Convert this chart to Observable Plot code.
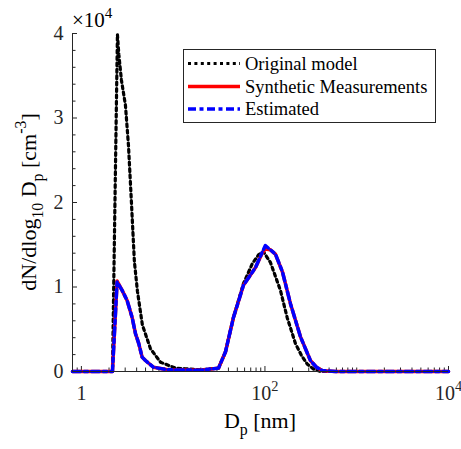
<!DOCTYPE html>
<html><head><meta charset="utf-8">
<script src="https://cdn.jsdelivr.net/npm/d3@7"></script>
<script src="https://cdn.jsdelivr.net/npm/@observablehq/plot@0.6"></script>
<style>html,body{margin:0;padding:0;background:#fff}</style>
</head><body><div id="chart"></div>
<script>
// ---- data (y in units of 10^4 cm^-3) ----
const seriesNames = ["Original model", "Synthetic Measurements", "Estimated"];

const dOrig = [0.8, 2.18, 2.47, 2.56, 2.73, 3.02, 3.26, 3.51, 3.78, 4.08, 4.62, 5.66, 7.27, 10.6, 19.8, 31.2, 37.1, 45.4, 58.3, 73.1, 85.0, 96.0, 114.8, 147.5, 174.5, 215, 250, 288, 337, 403, 10000];
const nOrig = [0, 0, 3.99, 3.75, 3.45, 3.15, 2.67, 2.0, 1.3, 0.95, 0.55, 0.27, 0.11, 0.04, 0.02, 0.04, 0.23, 0.64, 1.04, 1.28, 1.38, 1.42, 1.29, 0.96, 0.64, 0.33, 0.19, 0.09, 0.03, 0, 0];

const dMeas = [0.8, 2.18, 2.45, 2.78, 3.15, 3.57, 3.88, 4.22, 4.59, 4.99, 6.1, 8.67, 19.8, 31.2, 37.1, 45.4, 58.3, 78.9, 93.2, 101, 114.8, 130, 155, 190, 244, 313, 364, 424, 589, 10000];
const nMeas = [0, 0, 1.07, 0.96, 0.84, 0.64, 0.45, 0.33, 0.17, 0.13, 0.05, 0.02, 0.015, 0.04, 0.23, 0.64, 1.02, 1.23, 1.40, 1.45, 1.44, 1.39, 1.18, 0.80, 0.41, 0.13, 0.05, 0.01, 0, 0];

const dEst = [0.8, 2.18, 2.45, 2.78, 3.15, 3.57, 3.88, 4.22, 4.59, 4.99, 6.1, 8.67, 19.8, 31.2, 37.1, 45.4, 58.3, 78.9, 93.2, 101, 114.8, 130, 155, 190, 244, 313, 364, 424, 589, 10000];
const nEst = [0, 0, 1.06, 0.96, 0.84, 0.64, 0.45, 0.33, 0.17, 0.13, 0.05, 0.02, 0.015, 0.04, 0.23, 0.64, 1.02, 1.23, 1.41, 1.49, 1.44, 1.39, 1.18, 0.80, 0.41, 0.13, 0.05, 0.01, 0, 0];

const xTickValues = [1, 100, 10000];
const xTickLabels = ["1", "10^2", "10^4"];
const yTickValues = [0, 1, 2, 3, 4];
const yTickLabels = ["0", "1", "2", "3", "4"];

// ---- layout ----
const W = 461, H = 449, ML = 72, MR = 13, MT = 33, MB = 78;
const innerW = W - ML - MR, innerH = H - MT - MB;
const FONT = "'Liberation Serif', 'Times New Roman', serif";
const AX = "#262626";
const xDomain = [0.8, 10000], yDomain = [0, 4];

const toRows = (xs, ys) => xs.map((x, i) => ({D: x, N: ys[i]}));
const origRows = toRows(dOrig, nOrig);
const measRows = toRows(dMeas, nMeas);
const estRows = toRows(dEst, nEst);

// minor tick positions derived from the scale domain
const xMinor = [];
for (let e = -1; e < 4; e++) for (let m = 1; m < 10; m++) {
  const v = m * Math.pow(10, e);
  if (v >= xDomain[0] && v <= xDomain[1] && !xTickValues.includes(v)) xMinor.push(v);
}
const yMinor = d3.range(0, 4.0001, 0.2).map(v => +v.toFixed(1)).filter(v => !yTickValues.includes(v));

// tick lengths (pixels) converted into scale units
const yLen = px => yDomain[0] + px / innerH * (yDomain[1] - yDomain[0]);
const xLen = px => xDomain[0] * Math.pow(xDomain[1] / xDomain[0], px / innerW);

const styles = {
  orig: {stroke: "#000000", strokeWidth: 3.2, dash: "3 3.4"},
  meas: {stroke: "#ff0000", strokeWidth: 3.5, dash: null},
  est:  {stroke: "#0000ff", strokeWidth: 3.5, dash: "8 3.5 4 3.5"}
};

const plot = Plot.plot({
  width: W, height: H,
  marginLeft: ML, marginRight: MR, marginTop: MT, marginBottom: MB,
  style: {fontFamily: FONT, background: "white", color: AX, overflow: "visible"},
  x: {type: "log", domain: xDomain},
  y: {domain: yDomain},
  marks: [
    Plot.axisX({ticks: xTickValues, tickSize: 0, tickPadding: 14, fontSize: 20,
      tickFormat: d => xTickLabels[xTickValues.indexOf(d)], label: null, fill: AX}),
    Plot.axisY({ticks: yTickValues, tickSize: 0, tickPadding: 9, fontSize: 20,
      tickFormat: d => yTickLabels[yTickValues.indexOf(d)], label: null, fill: AX}),
    // ticks pointing inward (MATLAB style)
    Plot.ruleX(xMinor, {x: d => d, y1: yDomain[0], y2: yLen(3.5), stroke: AX, strokeWidth: 1}),
    Plot.ruleX(xTickValues, {x: d => d, y1: yDomain[0], y2: yLen(5), stroke: AX, strokeWidth: 1}),
    Plot.ruleY(yMinor, {y: d => d, x1: xDomain[0], x2: xLen(3.5), stroke: AX, strokeWidth: 1}),
    Plot.ruleY(yTickValues, {y: d => d, x1: xDomain[0], x2: xLen(5), stroke: AX, strokeWidth: 1}),
    // data
    Plot.line(origRows, {x: "D", y: "N", stroke: styles.orig.stroke, strokeWidth: styles.orig.strokeWidth, strokeDasharray: styles.orig.dash}),
    Plot.line(measRows, {x: "D", y: "N", stroke: styles.meas.stroke, strokeWidth: styles.meas.strokeWidth}),
    Plot.line(estRows, {x: "D", y: "N", stroke: styles.est.stroke, strokeWidth: styles.est.strokeWidth, strokeDasharray: styles.est.dash}),
    // axis lines
    Plot.ruleY([yDomain[0]], {stroke: AX, strokeWidth: 1}),
    Plot.ruleX([xDomain[0]], {stroke: AX, strokeWidth: 1})
  ]
});

document.getElementById("chart").appendChild(plot);
const svg = d3.select(plot);

// rich text helper (sub/superscripts)
function rich(textSel, parts, size) {
  let shift = 0;
  parts.forEach(p => {
    const ts = textSel.append("tspan").text(p.t);
    const target = p.sub ? size * 0.32 : p.sup ? -size * 0.45 : 0;
    if (target !== shift) { ts.attr("dy", target - shift); shift = target; }
    if (p.sub || p.sup) ts.attr("font-size", size * 0.72);
  });
}

// convert "10^k" tick labels into superscripts
svg.selectAll("text").each(function() {
  const t = this.textContent;
  if (t && t.includes("^") && this.children.length === 0) {
    const [b, e] = t.split("^");
    const sel = d3.select(this);
    this.textContent = "";
    rich(sel, [{t: b}, {t: e, sup: true}], 20);
  }
});

const g = svg.append("g").attr("font-family", FONT).attr("fill", "#000");

// exponent marker
rich(g.append("text").attr("x", ML).attr("y", 27).attr("font-size", 21).attr("text-anchor", "start"),
  [{t: "\u00d710"}, {t: "4", sup: true}], 21);

// x label
rich(g.append("text").attr("x", ML + innerW / 2).attr("y", 428).attr("text-anchor", "middle").attr("font-size", 22),
  [{t: "D"}, {t: "p", sub: true}, {t: " [nm]"}], 22);

// y label
rich(g.append("text").attr("transform", `translate(36,${MT + innerH / 2}) rotate(-90)`).attr("text-anchor", "middle").attr("font-size", 22),
  [{t: "dN/dlog"}, {t: "10", sub: true}, {t: " D"}, {t: "p", sub: true}, {t: " [cm"}, {t: "-3", sup: true}, {t: "]"}], 22);

// legend
const lg = svg.append("g").attr("font-family", FONT).attr("text-anchor", "start");
lg.append("rect").attr("x", 183.5).attr("y", 49.5).attr("width", 252).attr("height", 73)
  .attr("fill", "white").attr("stroke", AX).attr("stroke-width", 1);
const legendItems = [
  {name: seriesNames[0], s: styles.orig, y: 63.5},
  {name: seriesNames[1], s: styles.meas, y: 86.5},
  {name: seriesNames[2], s: styles.est, y: 109}
];
legendItems.forEach(it => {
  const ln = lg.append("line").attr("x1", 188).attr("x2", 240).attr("y1", it.y).attr("y2", it.y)
    .attr("stroke", it.s.stroke).attr("stroke-width", it.s.strokeWidth);
  if (it.s.dash) ln.attr("stroke-dasharray", it.s.dash);
  lg.append("text").attr("x", 245).attr("y", it.y + 6).attr("font-size", 18.5).attr("fill", "#000").text(it.name);
});
</script>
</body></html>
